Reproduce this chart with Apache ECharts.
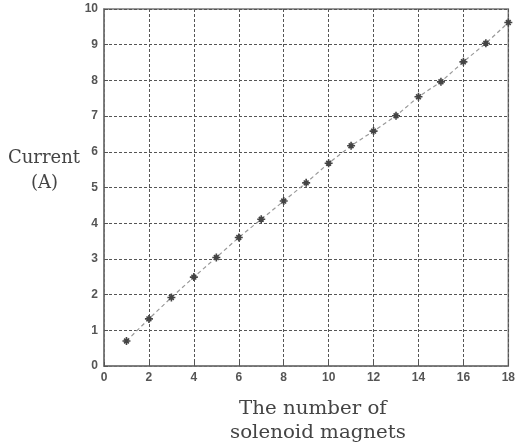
<!DOCTYPE html>
<html><head><meta charset="utf-8">
<script src="https://cdn.jsdelivr.net/npm/echarts@6/dist/echarts.min.js"></script>
<style>html,body{margin:0;padding:0;background:#fff}#c{width:518px;height:444px}</style>
</head><body><div id="c"></div>
<script>
var magnets = [1,2,3,4,5,6,7,8,9,10,11,12,13,14,15,16,17,18];
var current = [0.70,1.32,1.92,2.49,3.04,3.60,4.11,4.62,5.13,5.68,6.17,6.58,7.01,7.54,7.96,8.52,9.04,9.62];
var xTitle = ['The number of','solenoid magnets'];
var yTitle = ['Current','(A)'];

var chart = echarts.init(document.getElementById('c'));
var gridLine = {show:true, lineStyle:{color:'#555', type:[3,2], width:1}};
var labelFont = {color:'#555', fontSize:12, fontWeight:'bold', fontFamily:'"Liberation Sans Narrow", "Liberation Sans", Arial, sans-serif'};
var titleFont = '18px "DejaVu Serif", serif';
chart.setOption({
  animation:false,
  backgroundColor:'#fff',
  grid:{left:104, right:9, top:9, bottom:78, show:true, borderColor:'#777', borderWidth:1.5},
  xAxis:{type:'value', min:0, max:18, interval:2,
    axisLine:{show:true, onZero:false, lineStyle:{color:'#777', width:1.5}},
    axisTick:{show:true, inside:true, length:4, lineStyle:{color:'#555'}},
    axisLabel:Object.assign({margin:6}, labelFont),
    splitLine:gridLine},
  yAxis:{type:'value', min:0, max:10, interval:1,
    axisLine:{show:true, lineStyle:{color:'#777', width:1.5}},
    axisTick:{show:true, inside:true, length:4, lineStyle:{color:'#555'}},
    axisLabel:Object.assign({margin:6}, labelFont),
    splitLine:gridLine},
  graphic:[
    {type:'text', x:8, y:149, scaleX:1.0, style:{text:yTitle[0], font:titleFont, fill:'#444'}},
    {type:'text', x:31, y:174, style:{text:yTitle[1], font:titleFont, fill:'#444'}},
    {type:'text', x:239, y:400, scaleX:1.1, style:{text:xTitle[0], font:titleFont, fill:'#444'}},
    {type:'text', x:230, y:424, scaleX:1.1, style:{text:xTitle[1], font:titleFont, fill:'#444'}}
  ],
  series:[{
    type:'line',
    data:magnets.map(function(m,i){return [m,current[i]];}),
    lineStyle:{color:'#999', width:1.2, type:[4,3]},
    symbol:'path://M5 0 L5 10 M0 5 L10 5 M2 2 L8 8 M8 2 L2 8',
    symbolSize:8,
    itemStyle:{color:'#444', borderColor:'#444', borderWidth:1.6},
    z:5
  }]
});
</script></body></html>
